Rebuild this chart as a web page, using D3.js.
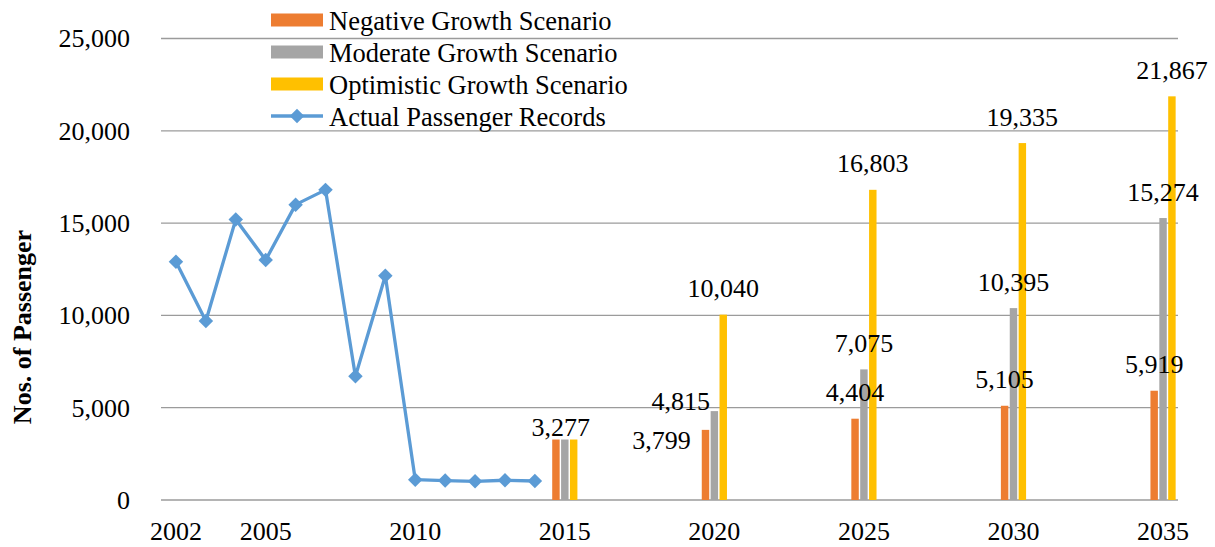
<!DOCTYPE html>
<html>
<head>
<meta charset="utf-8">
<script src="https://cdn.jsdelivr.net/npm/d3@7"></script>
<style>
  html, body { margin: 0; padding: 0; background: #fff; }
  svg { display: block; font-family: "Liberation Serif", "Times New Roman", serif; }
</style>
</head>
<body>
<svg id="chart" width="1215" height="547"></svg>
<script>
// ---------- data ----------
const categories = [2002, 2003, 2004, 2005, 2006, 2007, 2008, 2009, 2010, 2011, 2012, 2013, 2014,
  2015, 2016, 2017, 2018, 2019, 2020, 2021, 2022, 2023, 2024, 2025, 2026, 2027, 2028, 2029,
  2030, 2031, 2032, 2033, 2034, 2035];
const actualYears = [2002, 2003, 2004, 2005, 2006, 2007, 2008, 2009, 2010, 2011, 2012, 2013, 2014];
const actualValues = [12900, 9700, 15200, 13000, 16000, 16800, 6700, 12150, 1100, 1050, 1010, 1070, 1030];
const scenarioYears = [2015, 2020, 2025, 2030, 2035];
const negativeValues = [3277, 3799, 4404, 5105, 5919];
const moderateValues = [3277, 4815, 7075, 10395, 15274];
const optimisticValues = [3277, 10040, 16803, 19335, 21867];
const seriesNames = ["Negative Growth Scenario", "Moderate Growth Scenario", "Optimistic Growth Scenario"];
const lineName = "Actual Passenger Records";
const yTicks = [0, 5000, 10000, 15000, 20000, 25000];
const xTickLabels = [2002, 2005, 2010, 2015, 2020, 2025, 2030, 2035];
const yTitle = "Nos. of Passenger";

// ---------- styles / layout ----------
const colors = ["#ED7D31", "#A5A5A5", "#FFC000"];
const lineColor = "#5B9BD5";
const plot = { left: 161, right: 1178, top: 38.5, bottom: 500 };
const fontSize = 26;
const legendFontSize = 26.5;
// label nudges (dx, dy in px relative to default position) for labels that were moved
const labelNudge = {
  "1-2015": { dx: -4, dy: 14 },
  "0-2020": { dx: -44, dy: 36.5 },
  "1-2020": { dx: -33.5, dy: 16.5 }
};
const hiddenLabels = new Set(["0-2015", "2-2015"]);

const svg = d3.select("#chart");
const x = d3.scaleBand().domain(categories).range([plot.left, plot.right]).padding(0);
const y = d3.scaleLinear().domain([0, 25000]).range([plot.bottom, plot.top]);
const xc = d => x(d) + x.bandwidth() / 2;
const inner = d3.scaleBand().domain([0, 1, 2]).range([-12.6, 12.6]).paddingInner(0.16);

// gridlines
svg.append("g").selectAll("line").data(yTicks).join("line")
  .attr("x1", plot.left).attr("x2", plot.right)
  .attr("y1", d => y(d)).attr("y2", d => y(d))
  .attr("stroke", "#9b9b9b").attr("stroke-width", 1.3);

// y tick labels
svg.append("g").selectAll("text").data(yTicks).join("text")
  .attr("x", 130).attr("y", d => y(d)).attr("dy", "0.34em")
  .attr("text-anchor", "end").attr("font-size", fontSize).attr("fill", "#000")
  .text(d => d3.format(",")(d));

// x tick labels
svg.append("g").selectAll("text").data(xTickLabels).join("text")
  .attr("x", d => xc(d)).attr("y", 540)
  .attr("text-anchor", "middle").attr("font-size", fontSize).attr("fill", "#000")
  .text(d => d);

// y title
svg.append("text")
  .attr("transform", `translate(31,327) rotate(-90)`)
  .attr("text-anchor", "middle").attr("font-size", fontSize).attr("font-weight", "bold")
  .attr("fill", "#000").text(yTitle);

// bars
const seriesValues = [negativeValues, moderateValues, optimisticValues];
const barData = [];
seriesValues.forEach((vals, si) => vals.forEach((v, i) => barData.push({ si, year: scenarioYears[i], v })));

svg.append("g").selectAll("rect").data(barData).join("rect")
  .attr("x", d => xc(d.year) + inner(d.si))
  .attr("width", inner.bandwidth())
  .attr("y", d => y(d.v))
  .attr("height", d => y(0) - y(d.v))
  .attr("fill", d => colors[d.si]);

// line
const lineData = actualYears.map((yr, i) => ({ year: yr, v: actualValues[i] }));
svg.append("path").datum(lineData)
  .attr("fill", "none").attr("stroke", lineColor).attr("stroke-width", 3.3)
  .attr("stroke-linejoin", "round")
  .attr("d", d3.line().x(d => xc(d.year)).y(d => y(d.v)));
const diamond = d3.symbol().type(d3.symbolSquare).size(105);
svg.append("g").selectAll("path").data(lineData).join("path")
  .attr("d", diamond)
  .attr("transform", d => `translate(${xc(d.year)},${y(d.v)}) rotate(45)`)
  .attr("fill", lineColor);

// data labels
svg.append("g").selectAll("text").data(barData.filter(d => !hiddenLabels.has(d.si + "-" + d.year))).join("text")
  .attr("x", d => {
    const n = labelNudge[d.si + "-" + d.year];
    return xc(d.year) + inner(d.si) + inner.bandwidth() / 2 + (n ? n.dx : 0);
  })
  .attr("y", d => {
    const n = labelNudge[d.si + "-" + d.year];
    return y(d.v) - 17.5 + (n ? n.dy : 0);
  })
  .attr("text-anchor", "middle").attr("font-size", fontSize).attr("fill", "#000")
  .text(d => d3.format(",")(d.v));

// legend
const legend = svg.append("g");
const legendRows = [0, 1, 2, 3];
const rowBase = r => 30 + r * 32;
legendRows.forEach(r => {
  const cy = rowBase(r) - 10;
  if (r < 3) {
    legend.append("rect").attr("x", 271).attr("y", cy - 6.5).attr("width", 52).attr("height", 13)
      .attr("fill", colors[r]);
  } else {
    legend.append("line").attr("x1", 271).attr("x2", 323).attr("y1", cy).attr("y2", cy)
      .attr("stroke", lineColor).attr("stroke-width", 3.3);
    legend.append("path").attr("d", diamond).attr("transform", `translate(297,${cy}) rotate(45)`)
      .attr("fill", lineColor);
  }
  legend.append("text").attr("x", 329).attr("y", rowBase(r))
    .attr("font-size", legendFontSize).attr("fill", "#000")
    .text(r < 3 ? seriesNames[r] : lineName);
});
</script>
</body>
</html>
